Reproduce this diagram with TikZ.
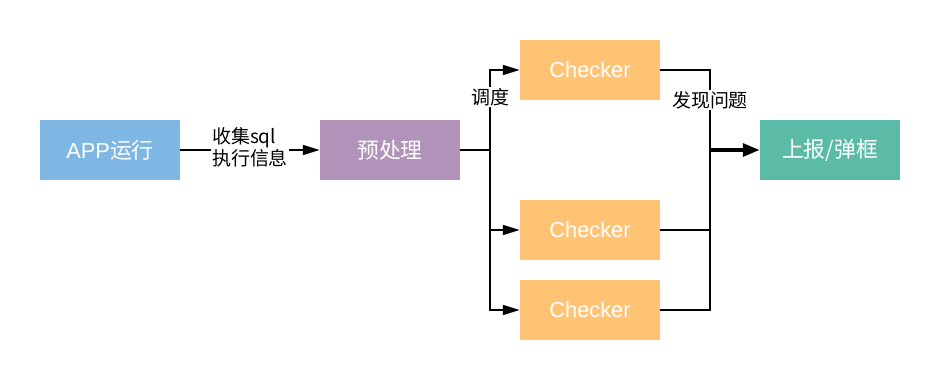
\documentclass[tikz,border=0pt]{standalone}
\usepackage{fontspec}
\setmainfont{Liberation Sans}
\newfontfamily\cjk{Noto Sans CJK SC}
\usepackage{tikz}
\usetikzlibrary{
  arrows.meta,
  positioning
}
\definecolor{appblue}{RGB}{126,183,227}
\definecolor{prepurple}{RGB}{177,147,185}
\definecolor{chkorange}{RGB}{255,195,115}
\definecolor{repteal}{RGB}{91,187,166}

\begin{document}
\begin{tikzpicture}[
    sbox/.style={
      rectangle, draw=none, fill=#1, text=white,
      minimum width=3.5cm, minimum height=1.5cm,
      align=center, font=\fontsize{15.5}{17}\selectfont
    },
    sbox/.default=chkorange,
    wire/.style={line width=1.4pt, black},
    arr/.style={wire, -{Triangle[length=12pt,width=7pt]}},
    bigarr/.style={line width=2.8pt, -{Triangle[length=12pt,width=9pt]}},
    lbl/.style={fill=white, inner sep=1pt, align=left,
      font=\fontsize{13.5}{15.5}\selectfont\cjk},
  ]
  \fill[white] (0,0) rectangle (23.5,-9.5);

  %% --- Pipeline boxes ---
  \node[sbox=appblue]    (app)  at (2.75,-3.75)  {APP{\cjk 运行}};
  \node[sbox=prepurple]  (pre)  at (9.75,-3.75)  {\cjk 预处理};
  \node[sbox=chkorange]  (chk1) at (14.75,-1.75) {Checker};
  \node[sbox=chkorange]  (chk2) at (14.75,-5.75) {Checker};
  \node[sbox=chkorange]  (chk3) at (14.75,-7.75) {Checker};
  \node[sbox=repteal]    (rep)  at (20.75,-3.75) {\cjk 上报/弹框};

  \coordinate (split) at (12.25,-3.75);
  \coordinate (merge) at (17.75,-3.75);

  %% --- Collect ---
  \draw[arr] (app) -- (pre);
  \node[lbl] (collect) at (6.25,-3.68) {收集sql\\执行信息};

  %% --- Dispatch ---
  \draw[wire] (pre) -- (split);
  \draw[arr] (split) |- (chk1);
  \draw[arr] (split) |- (chk2);
  \draw[arr] (split) |- (chk3);
  \node[lbl] (dispatch) at (12.25,-2.42) {调度};

  %% --- Report ---
  \draw[wire] (chk1) -| (merge);
  \draw[wire] (chk2) -| (merge);
  \draw[wire] (chk3) -| (merge);
  \draw[bigarr] (merge) -- (rep);
  \node[lbl] (found) at (17.75,-2.5) {发现问题};
\end{tikzpicture}
\end{document}
